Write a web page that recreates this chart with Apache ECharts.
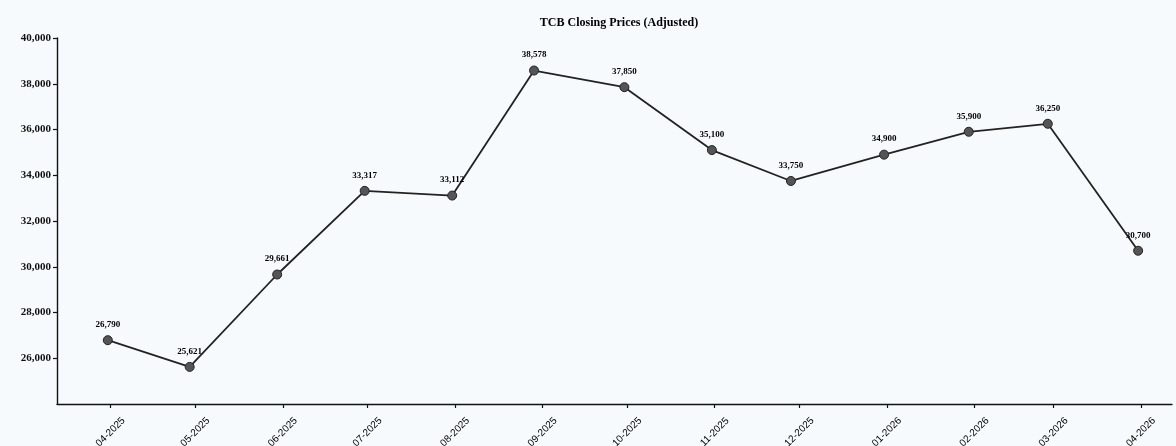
<!DOCTYPE html>
<html>
<head>
<meta charset="utf-8">
<script src="https://cdn.jsdelivr.net/npm/echarts@6/dist/echarts.min.js"></script>
<style>
  html, body { margin: 0; padding: 0; background: #f7fafc; }
  #main { width: 1176px; height: 446px; }
</style>
</head>
<body>
<div id="main"></div>
<script>
// 收盘日期（月末交易日）和价格
var dates = ['2025-03-31', '2025-04-29', '2025-05-30', '2025-06-30', '2025-07-31', '2025-08-29',
  '2025-09-30', '2025-10-31', '2025-11-28', '2025-12-31', '2026-01-30', '2026-02-27', '2026-03-31'];
var prices = [26790, 25621, 29661, 33317, 33112, 38578, 37850, 35100, 33750, 34900, 35900, 36250, 30700];

// x轴刻度：每月一日
var monthTicks = ['04-2025', '05-2025', '06-2025', '07-2025', '08-2025', '09-2025', '10-2025',
  '11-2025', '12-2025', '01-2026', '02-2026', '03-2026', '04-2026'];

function toTs(s) {
  var p = s.split('-');
  return Date.UTC(+p[0], +p[1] - 1, +p[2]);
}
function monthTs(s) {
  var p = s.split('-');
  return Date.UTC(+p[1], +p[0] - 1, 1);
}

var tickValues = monthTicks.map(monthTs);
var tickName = {};
for (var i = 0; i < monthTicks.length; i++) {
  tickName[tickValues[i]] = monthTicks[i];
}

var seriesData = [];
for (var j = 0; j < dates.length; j++) {
  seriesData.push([toTs(dates[j]), prices[j]]);
}

var myChart = echarts.init(document.getElementById('main'));

var option = {
  backgroundColor: '#f7fafc',
  animation: false,
  title: {
    text: 'TCB Closing Prices (Adjusted)',
    left: 614,
    textAlign: 'center',
    top: 12,
    textStyle: {
      fontFamily: 'Liberation Serif',
      fontSize: 12,
      fontWeight: 'bold',
      color: '#000'
    }
  },
  grid: {
    left: 57,
    right: 4,
    top: 38,
    bottom: 42,
    outerBoundsMode: 'none'
  },
  xAxis: {
    type: 'value',
    min: toTs('2025-03-13'),
    max: toTs('2026-04-12'),
    splitLine: { show: false },
    axisLine: { lineStyle: { color: '#111', width: 1.4 } },
    axisTick: {
      customValues: tickValues,
      length: 4,
      lineStyle: { color: '#111', width: 1.2 }
    },
    axisLabel: {
      customValues: tickValues,
      rotate: 45,
      align: 'center',
      verticalAlign: 'middle',
      margin: 28,
      fontFamily: 'Liberation Sans',
      fontSize: 10,
      color: '#000',
      formatter: function (v) {
        return tickName[v] || '';
      }
    }
  },
  yAxis: {
    type: 'value',
    min: 24000,
    max: 40000,
    interval: 2000,
    splitLine: { show: false },
    axisLine: { show: true, lineStyle: { color: '#111', width: 1.4 } },
    axisTick: { show: true, length: 4, lineStyle: { color: '#111', width: 1.2 } },
    axisLabel: {
      showMinLabel: false,
      margin: 6,
      fontFamily: 'Liberation Serif',
      fontSize: 11,
      fontWeight: 'bold',
      color: '#111',
      formatter: function (v) {
        return v.toLocaleString('en-US');
      }
    }
  },
  series: [
    {
      type: 'line',
      data: seriesData,
      symbol: 'circle',
      symbolSize: 9,
      lineStyle: { color: '#222', width: 1.8 },
      itemStyle: { color: '#555', borderColor: '#222', borderWidth: 1 },
      label: {
        show: true,
        position: 'top',
        distance: 6,
        fontFamily: 'Liberation Serif',
        fontSize: 9,
        fontWeight: 'bold',
        color: '#000',
        formatter: function (p) {
          return p.value[1].toLocaleString('en-US');
        }
      }
    }
  ]
};

myChart.setOption(option);
</script>
</body>
</html>
